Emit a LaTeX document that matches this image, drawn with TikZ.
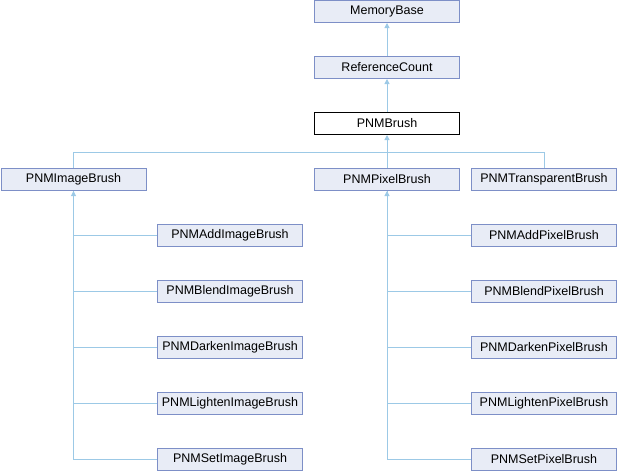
\documentclass[tikz,border=0pt]{standalone}
\usepackage{fontspec}
\setmainfont{Liberation Sans}
\usetikzlibrary{arrows.meta}
\definecolor{boxfill}{HTML}{E8ECF6}
\definecolor{boxline}{HTML}{7D8FC7}
\definecolor{edgeline}{HTML}{9CC9E6}
\tikzset{
  cls/.style={draw=boxline,fill=boxfill,line width=1pt,minimum width=145pt,minimum height=22pt,inner sep=0pt,font=\fontsize{12.5}{14}\selectfont},
  clscur/.style={cls,draw=black,fill=white},
  edge/.style={draw=edgeline,line width=1pt},
  inh/.style={edge,-{Triangle[length=5pt,width=5pt]}}
}
\begin{document}
\begin{tikzpicture}[x=1pt,y=-1pt]
\useasboundingbox (0,0) rectangle (618,472);
\node[cls] (memorybase) at (387,11.5) {MemoryBase};
\node[cls] (refcount) at (387,67.5) {ReferenceCount};
\node[clscur] (pnmbrush) at (387,123.5) {PNMBrush};

\node[cls] (imagebrush) at (73.5,179.5) {PNMImageBrush};
\node[cls] (pixelbrush) at (387,179.5) {PNMPixelBrush};
\node[cls] (transparentbrush) at (544,179.5) {PNMTransparentBrush};

\node[cls] (addimage) at (230,235.5) {PNMAddImageBrush};
\node[cls] (blendimage) at (230,291.5) {PNMBlendImageBrush};
\node[cls] (darkenimage) at (230,347.5) {PNMDarkenImageBrush};
\node[cls] (lightenimage) at (230,403.5) {PNMLightenImageBrush};
\node[cls] (setimage) at (230,459.5) {PNMSetImageBrush};

\node[cls] (addpixel) at (544,235.5) {PNMAddPixelBrush};
\node[cls] (blendpixel) at (544,291.5) {PNMBlendPixelBrush};
\node[cls] (darkenpixel) at (544,347.5) {PNMDarkenPixelBrush};
\node[cls] (lightenpixel) at (544,403.5) {PNMLightenPixelBrush};
\node[cls] (setpixel) at (544,459.5) {PNMSetPixelBrush};

\coordinate (bus) at (387,152);

\draw[inh] (refcount) -- (memorybase);
\draw[inh] (pnmbrush) -- (refcount);
\draw[inh] (pixelbrush) -- (pnmbrush);
\draw[edge] (imagebrush.north) |- (bus);
\draw[edge] (transparentbrush.north) |- (bus);

\draw[inh] (setimage.west) -| (imagebrush.south);
\foreach \c in {addimage,blendimage,darkenimage,lightenimage}
  \draw[edge] (\c.west) -| (imagebrush.south);

\draw[inh] (setpixel.west) -| (pixelbrush.south);
\foreach \c in {addpixel,blendpixel,darkenpixel,lightenpixel}
  \draw[edge] (\c.west) -| (pixelbrush.south);
\end{tikzpicture}
\end{document}
